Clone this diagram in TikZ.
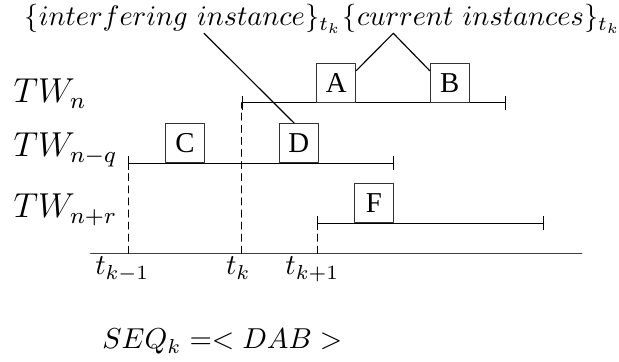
\documentclass[tikz,border=0pt]{standalone}
\usepackage{amsmath}
\usepackage{graphicx}
\usepackage{fontspec}
\usepackage{tikz}
\usetikzlibrary{arrows.meta,calc,positioning}
\newfontfamily\boxfont{Liberation Serif}
\tikzset{
  every picture/.append style={line cap=round,line join=round},
  tw line/.style={thin,{Bar[width=4.8pt]}-{Bar[width=4.8pt]}},
  tw axis/.style={line width=0.5pt,black!75},
  tw dashed/.style={thin,dash pattern=on 2.4pt off 1.8pt},
  tw box/.style={draw=black!80,thin,minimum size=13.5pt,inner sep=0pt,anchor=south,font=\boxfont},
  tw label/.style={anchor=base west,inner sep=0pt,font=\large},
  tw time/.style={anchor=base,inner sep=0pt},
  tw note/.style={anchor=base west,inner sep=0pt}
}
\begin{document}
\begin{tikzpicture}[x=0.347pt,y=-0.347pt]
  \useasboundingbox (0,0) rectangle (619,362);
  % windows (start / end of each time window)
  \coordinate (wn0) at (241.7,102.7);
  \coordinate (wn1) at (506,102.7);
  \coordinate (wq0) at (128.3,163.3);
  \coordinate (wq1) at (393.7,163.3);
  \coordinate (wr0) at (317.3,223.3);
  \coordinate (wr1) at (544.3,223.3);
  % time axis
  \coordinate (ax0) at (90.7,253.3);
  \coordinate (ax1) at (581.7,253.3);
  \coordinate (xkm) at (128.3,253.3);
  \coordinate (xk) at (241.7,253.3);
  \coordinate (xkp) at (317.3,253.3);
  \draw[tw axis] (ax0) -- (ax1);
  \foreach \a/\b in {xkm/wq0,xk/wn0,xkp/wr0} {
    \draw[tw dashed] (\a) -- (\b);
  }
  \foreach \a/\b in {wn0/wn1,wq0/wq1,wr0/wr1} {
    \draw[tw line] (\a) -- (\b);
  }
  \node[tw label] (twn) at (13,103) {$TW_n$};
  \node[tw label] (twnq) at (13,157) {$TW_{n-q}$};
  \node[tw label] (twnr) at (13,218) {$TW_{n+r}$};
  \node[tw time] (tkm) at (122.3,275) {$t_{k-1}$};
  \node[tw time] (tk) at (238.3,275) {$t_k$};
  \node[tw time] (tkp) at (312.3,275) {$t_{k+1}$};
  % instances
  \node[tw box] (A) at (336.2,102.7) {A};
  \node[tw box] (B) at (449.7,102.7) {B};
  \node[tw box] (C) at (185,163.3) {C};
  \node[tw box] (D) at (298.7,163.3) {D};
  \node[tw box] (F) at (374,223.3) {F};
  % notes
  \node[tw note] (interfering) at (24,26) {\scalebox{0.985}{$\{interfering\ instance\}_{t_k}$}};
  \node[tw note,anchor=base west] (current) at (interfering.base east) {\scalebox{0.985}{$\{current\ instances\}_{t_k}$}};
  \coordinate (pin) at (204,33.3);
  \coordinate (apex) at (393.3,33.3);
  \draw[thin] (pin) -- ($(D.north)+(-4.4,0)$);
  \draw[thin] ($(A.north east)!0.2!(A.south east)$) -- (apex) -- ($(B.north west)!0.2!(B.south west)$);
  \node[tw note] (seq) at (101.7,349) {$SEQ_k =< DAB >$};
\end{tikzpicture}
\end{document}
